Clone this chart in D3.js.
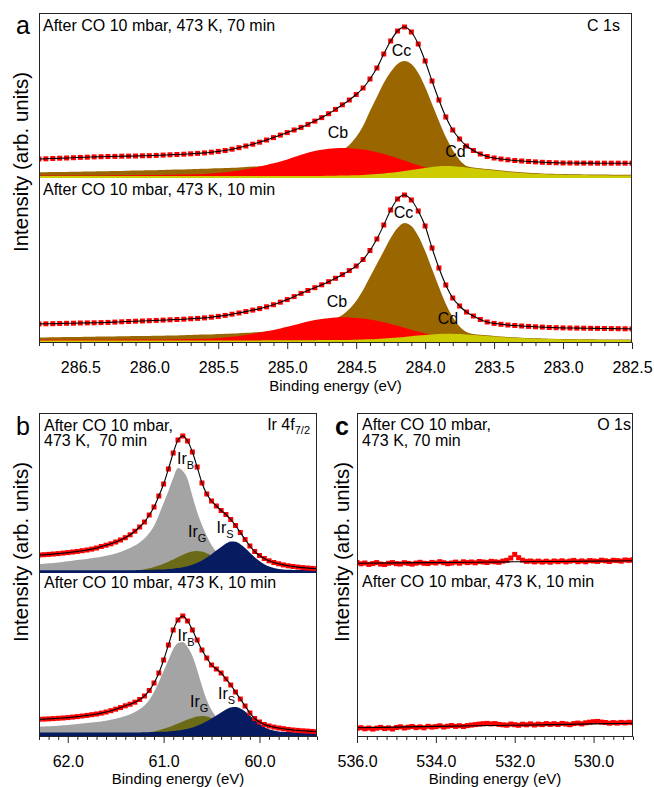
<!DOCTYPE html>
<html>
<head>
<meta charset="utf-8">
<script src="https://cdn.jsdelivr.net/npm/d3@7"></script>
<style>
  body { margin: 0; background: #fff; }
  svg text { font-family: "Liberation Sans", Arial, Helvetica, sans-serif; fill: #000; white-space: pre; }
</style>
</head>
<body>
<svg id="fig" width="654" height="787"></svg>
<script>
// ---------- C 1s : binding-energy grid 286.80 -> 282.50 eV, step 0.05 eV ----------
const c1sStart = 286.8, c1sStep = 0.05;

// 70 min spectrum: measured points and fitted components (arb. units)
const c1s70Data = [19.0,19.2,19.5,19.8,20.0,20.3,20.6,20.8,21.1,21.3,
  21.5,21.6,21.8,21.9,22.0,22.2,22.3,22.6,22.9,23.2,
  23.5,23.8,24.2,24.6,25.1,25.8,26.6,27.5,28.8,30.3,
  32.0,33.8,35.8,38.0,40.4,42.9,45.4,48.0,50.6,53.6,
  56.9,60.4,64.3,68.6,73.2,78.0,83.5,90.0,99.0,110,
  124,137,147,151,146,134,117,97,78,61,
  48,39,32,27.5,24,21.5,20,19,18.2,17.5,
  17,16.5,16.1,15.7,15.4,15.2,15.0,15.0,14.9,14.9,
  14.9,14.8,14.8,14.8,14.8,14.8,14.8];
const c1s70Cc = [5.7,5.8,5.9,6.0,6.1,6.2,6.3,6.4,6.6,6.7,
  6.8,6.9,7.1,7.2,7.4,7.5,7.7,7.8,8.0,8.2,
  8.4,8.6,8.8,9.0,9.2,9.5,9.7,10.0,10.3,10.6,
  11.0,11.4,11.8,12.3,12.8,13.4,14.1,14.9,15.8,16.9,
  18.2,19.8,21.8,24.4,28.0,33,41,52,67,81,
  95,106,114,117,114,105,91,74,57,41,
  28,18,12,10.5,9.7,8.9,8.2,7.5,6.8,6.2,
  5.7,5.3,4.9,4.6,4.3,4.1,3.9,3.8,3.7,3.6,
  3.5,3.4,3.4,3.3,3.3,3.2,3.2];
const c1s70Cb = [2.4,2.4,2.4,2.4,2.5,2.5,2.5,2.5,2.6,2.6,
  2.6,2.7,2.7,2.8,2.8,2.9,3.0,3.0,3.1,3.2,
  3.3,3.4,3.6,3.8,4.1,4.5,5.0,5.7,6.5,7.5,
  8.7,10.0,11.5,13.1,14.8,16.6,18.6,20.9,23.2,25.2,
  26.9,28.2,29.2,29.8,30.0,29.8,29.3,28.4,27.2,25.7,
  23.9,21.9,19.7,17.4,15.0,12.7,10.5,8.5,6.7,5.2,
  3.9,2.9,2.1,1.5,1.0,0.7,0.5,0.3,0.2,0.2,
  0.1,0.1,0.1,0,0,0,0,0,0,0,
  0,0,0,0,0,0,0];
const c1s70Cd = [2.0,2.0,2.0,2.0,2.0,2.0,2.0,2.0,2.0,2.0,
  2.0,2.0,2.0,2.0,2.0,2.0,2.0,2.0,2.0,2.0,
  2.0,2.0,2.0,2.0,2.0,2.0,2.0,2.0,2.0,2.0,
  2.0,2.0,2.0,2.0,2.0,2.0,2.0,2.0,2.0,2.0,
  2.1,2.1,2.2,2.3,2.4,2.6,2.8,3.1,3.5,4.0,
  4.6,5.3,6.1,7.0,8.0,9.1,10.1,11.1,11.8,12.0,
  11.8,11.3,10.6,9.8,9.0,8.2,7.5,6.8,6.1,5.5,
  5.0,4.6,4.2,3.9,3.6,3.4,3.2,3.1,3.0,2.9,
  2.8,2.7,2.7,2.6,2.6,2.5,2.5];

// 10 min spectrum
const c1s10Data = [18.0,18.2,18.3,18.5,18.7,18.8,19.0,19.1,19.2,19.4,
  19.6,19.9,20.2,20.5,20.8,21.0,21.3,21.6,21.9,22.2,
  22.5,22.8,23.2,23.6,24.1,24.8,25.6,26.6,27.8,29.0,
  30.4,31.9,33.4,35.2,37.3,39.8,42.4,45.4,48.6,51.5,
  54.3,57.2,60.3,63.7,67.4,71.4,76.0,82.5,91.5,103,
  117,132,143,147,142,131,116,94,74,57,
  44,36,30,26,22.5,20,18.6,17.7,17.0,16.5,
  16.0,15.6,15.2,14.9,14.5,14.3,14.1,14.0,13.9,13.8,
  13.7,13.6,13.5,13.4,13.3,13.2,13.1];
const c1s10Cc = [4.5,4.6,4.7,4.8,4.9,5.0,5.1,5.2,5.3,5.4,
  5.5,5.6,5.7,5.8,5.9,6.0,6.1,6.2,6.3,6.5,
  6.6,6.8,7.0,7.2,7.4,7.6,7.9,8.2,8.5,8.8,
  9.2,9.6,10.1,10.6,11.2,11.8,12.5,13.3,14.3,15.4,
  16.8,18.5,20.6,23.3,27,33,41,52,65,78,
  91,104,114,119,116,106,91,73,55,38,
  25,15.5,10.0,8.0,7.3,6.7,6.1,5.6,5.1,4.7,
  4.3,4.0,3.7,3.5,3.3,3.1,3.0,2.9,2.8,2.7,
  2.7,2.6,2.6,2.5,2.5,2.5,2.5];
const c1s10Cb = [2.3,2.3,2.3,2.3,2.3,2.3,2.3,2.3,2.3,2.3,
  2.3,2.3,2.4,2.4,2.4,2.4,2.5,2.5,2.5,2.6,
  2.7,2.8,2.9,3.1,3.3,3.6,4.0,4.6,5.3,6.1,
  7.1,8.2,9.4,10.7,12.1,13.6,15.2,17.0,18.8,20.5,
  21.9,23.0,23.8,24.4,24.7,24.6,24.1,23.4,22.4,21.2,
  19.7,18.0,16.2,14.3,12.3,10.4,8.6,7.0,5.5,4.3,
  3.2,2.4,1.7,1.2,0.8,0.6,0.4,0.3,0.2,0.1,
  0.1,0,0,0,0,0,0,0,0,0,
  0,0,0,0,0,0,0];
const c1s10Cd = [1.6,1.6,1.6,1.6,1.6,1.6,1.6,1.6,1.6,1.6,
  1.6,1.6,1.6,1.6,1.6,1.6,1.6,1.6,1.6,1.6,
  1.6,1.6,1.6,1.6,1.6,1.6,1.6,1.6,1.6,1.6,
  1.6,1.6,1.6,1.7,1.7,1.7,1.7,1.7,1.8,1.8,
  1.8,1.9,1.9,2.0,2.0,2.1,2.3,2.5,2.7,3.0,
  3.4,3.9,4.4,5.0,5.7,6.4,7.0,7.6,8.1,8.3,
  8.2,7.9,7.5,7.0,6.5,6.0,5.5,5.0,4.6,4.2,
  3.9,3.6,3.3,3.1,2.9,2.7,2.6,2.5,2.4,2.3,
  2.2,2.2,2.1,2.1,2.0,2.0,2.0];

// ---------- Ir 4f7/2 : grid 62.30 -> 59.40 eV, step 0.05 eV ----------
const irStart = 62.3, irStep = 0.05;
const ir70Data = [18.0,18.3,18.6,19.0,19.4,19.9,20.4,21.0,21.6,22.3,
  23.0,23.9,25.0,26.5,27.8,29.2,31.0,33.0,35.3,38.2,
  41.8,46.0,51,58,66,77,89,104,120,133,
  137,132,121,106,90,79,72,67,62.5,58.5,
  53.5,47.5,40.5,33.5,27,21.5,17.5,14.5,12.2,10.5,
  9.2,8.1,7.2,6.5,5.9,5.4,5.0,4.6,4.3];
const ir70B = [9.0,9.3,9.7,10.1,10.6,11.1,11.7,12.3,12.9,13.5,
  14.1,14.8,15.5,16.3,17.2,18.3,19.6,21.1,22.9,25.0,
  27.5,30.6,34.5,40,47,58,70,82,95,105,
  102,94,77,61,48,37,28,21,16,12.5,
  10,8.2,6.8,5.8,5.0,4.4,3.9,3.5,3.2,2.9,
  2.7,2.5,2.4,2.3,2.2,2.1,2.0,2.0,1.9];
const ir70G = [0.5,0.5,0.5,0.5,0.5,0.5,0.5,0.5,0.5,0.5,
  0.5,0.5,0.5,0.5,0.5,0.6,0.8,1.0,1.3,1.7,
  2.2,2.9,3.7,4.7,5.9,7.4,9.2,11.3,13.5,15.9,
  18.2,20.2,21.6,22.0,21.4,19.8,17.4,14.5,11.5,8.7,
  6.3,4.4,3.0,2.0,1.3,0.8,0.5,0.3,0.2,0.1,
  0.1,0,0,0,0,0,0,0,0];
const ir70S = [2.8,2.8,2.8,2.8,2.8,2.8,2.8,2.8,2.8,2.8,
  2.8,2.8,2.8,2.8,2.8,2.8,2.8,2.8,2.8,2.8,
  2.8,2.9,3.0,3.1,3.2,3.4,3.6,3.9,4.3,4.9,
  5.7,6.8,8.3,10.2,12.6,15.5,18.8,22.4,26.0,29.5,
  31.6,31.2,28.8,24.9,20.3,15.8,11.9,8.8,6.5,5.0,
  4.1,3.6,3.3,3.1,3.0,2.9,2.9,2.8,2.8];

const ir10Data = [16.7,16.9,17.1,17.4,17.7,18.0,18.4,18.9,19.4,20.0,
  20.6,21.3,22.0,22.9,24.0,25.3,26.8,28.4,30.2,31.8,
  33.8,36.5,40,45.5,53,63,76,91,106,116,
  120,115,106,96,86,78,71,67,63,57,
  51,44,37,30,23,17.5,14,11.5,10,8.9,
  8.0,7.3,6.6,6.0,5.6,5.2,4.9,4.6,4.3];
const ir10B = [9.3,9.5,9.7,10.0,10.3,10.7,11.1,11.5,12.0,12.5,
  13.0,13.5,14.0,14.6,15.3,16.2,17.3,18.5,20.0,21.8,
  24.0,26.8,30.5,36,44,54,65,76,87,93,
  94,89,80,66,50,36,26,19,14.5,11.3,
  9.0,7.4,6.2,5.3,4.6,4.1,3.6,3.3,3.0,2.8,
  2.6,2.4,2.3,2.2,2.1,2.0,2.0,1.9,1.9];
const ir10G = [0.5,0.5,0.5,0.5,0.5,0.5,0.5,0.5,0.5,0.5,
  0.5,0.5,0.5,0.5,0.5,0.5,0.5,0.7,0.9,1.2,
  1.6,2.1,2.8,3.6,4.6,5.8,7.2,8.8,10.6,12.5,
  14.5,16.4,18.1,19.4,20.0,19.6,18.0,15.5,12.5,9.5,
  6.8,4.6,3.0,1.9,1.2,0.7,0.4,0.3,0.2,0.1,
  0.1,0,0,0,0,0,0,0,0];
const ir10S = [3.5,3.5,3.5,3.5,3.5,3.5,3.5,3.5,3.5,3.5,
  3.5,3.5,3.5,3.5,3.5,3.5,3.5,3.5,3.5,3.5,
  3.5,3.6,3.7,3.8,3.9,4.1,4.3,4.6,5.0,5.5,
  6.2,7.2,8.5,10.2,12.3,14.8,17.6,20.6,23.6,26.5,
  28.6,29.0,27.6,24.6,20.6,16.3,12.3,9.0,6.8,5.4,
  4.6,4.2,3.9,3.7,3.6,3.5,3.5,3.5,3.5];

// ---------- O 1s : grid 536.0 -> 529.0 eV, step 0.1 eV; background fit at whole eV ----------
const o1sStart = 536.0, o1sStep = 0.1;
const o70Data = [10.5,9.2,10.0,8.6,9.4,10.4,8.9,8.5,9.7,10.4,
  9.3,9.0,10.3,9.6,8.9,9.9,10.7,9.7,9.4,10.6,
  10.0,11.3,10.3,9.3,10.0,10.9,9.8,11.2,10.4,11.0,
  10.2,11.5,11.0,10.5,11.7,11.2,10.7,11.9,12.7,15.0,
  18.6,15.3,12.8,11.6,12.0,11.1,11.9,10.9,11.8,10.8,
  12.0,11.3,12.2,11.1,11.9,12.6,11.3,12.1,11.2,12.4,
  12.0,11.6,12.8,12.2,11.5,12.7,12.4,11.9,13.0,12.6,
  13.2];
const o10Data = [7.6,8.3,7.2,8.0,6.9,7.8,8.6,7.4,8.1,7.0,
  8.5,9.2,8.0,8.8,9.5,8.4,9.1,8.2,9.7,8.9,
  9.4,10.2,9.0,9.8,10.5,9.6,10.3,9.5,10.4,10.9,
  11.4,11.9,12.3,12.6,12.1,12.4,11.6,11.2,10.8,11.9,
  11.3,10.7,11.8,11.2,12.1,11.0,11.9,11.4,12.4,11.6,
  12.3,11.5,12.6,12.0,11.3,12.4,12.9,12.1,13.2,13.8,
  14.3,14.6,13.9,13.5,12.8,13.4,12.9,13.6,13.1,13.7,
  13.3];
const oFitEnergy = [536, 535, 534, 533, 532, 531, 530, 529];
const o70Fit = [9.7, 10.1, 10.4, 10.8, 11.2, 11.5, 11.9, 12.3];
const o10Fit = [8.3, 8.9, 9.6, 10.2, 10.8, 11.4, 12.1, 12.7];

// ---------- axis ticks ----------
const c1sMajor = [286.5, 286.0, 285.5, 285.0, 284.5, 284.0, 283.5, 283.0, 282.5];
const irMajor = [62.0, 61.0, 60.0];
const o1sMajor = [536.0, 534.0, 532.0, 530.0];

// ---------- colours ----------
const colRed = "#ff0000", colBrown = "#996600", colYellow = "#cccc00";
const colGray = "#a4a4a4", colOlive = "#6b6b17", colNavy = "#061b60";

// energy axis for a grid
const grid = (start, step, n) => d3.range(n).map(i => +(start - step * i).toFixed(3));

const svg = d3.select("#fig");
const defs = svg.append("defs");

function drawPanel(cfg) {
  const x = d3.scaleLinear().domain(cfg.domain).range([cfg.left, cfg.right]);
  const y = d3.scaleLinear().domain([0, cfg.yMax]).range([cfg.bottom, cfg.top]);

  defs.append("clipPath").attr("id", "clip-" + cfg.id)
    .append("rect").attr("x", cfg.left).attr("y", cfg.top)
    .attr("width", cfg.right - cfg.left).attr("height", cfg.bottom - cfg.top);
  const plot = svg.append("g").attr("clip-path", `url(#clip-${cfg.id})`);

  cfg.spectra.forEach(sp => {
    const E = sp.energy;
    // fitted components, filled down to the spectrum baseline
    (sp.components || []).forEach(c => {
      const area = d3.area()
        .x((d, i) => x(E[i]))
        .y0(y(sp.offset))
        .y1(d => y(sp.offset + d))
        .curve(d3.curveMonotoneX);
      plot.append("path").datum(c.values).attr("d", area).attr("fill", c.color);
    });
    // measured points
    const s = cfg.marker;
    plot.append("g").selectAll("rect").data(sp.data).join("rect")
      .attr("x", (d, i) => x(E[i]) - s / 2)
      .attr("y", d => y(sp.offset + d) - s / 2)
      .attr("width", s).attr("height", s)
      .attr("fill", colRed);
    // fit envelope
    const fitE = sp.fitEnergy || E;
    const fitV = sp.fit || sp.data;
    const line = d3.line()
      .x((d, i) => x(fitE[i]))
      .y(d => y(sp.offset + d))
      .curve(sp.fit ? d3.curveLinear : d3.curveMonotoneX);
    plot.append("path").datum(fitV).attr("d", line)
      .attr("fill", "none").attr("stroke", "#000").attr("stroke-width", 1.1);
  });

  // frame
  svg.append("rect")
    .attr("x", cfg.left + 0.5).attr("y", cfg.top + 0.5)
    .attr("width", cfg.right - cfg.left - 1).attr("height", cfg.bottom - cfg.top)
    .attr("fill", "none").attr("stroke", "#262626").attr("stroke-width", 1);

  // bottom axis: minor then major ticks
  const axG = svg.append("g").attr("transform", `translate(0,${cfg.bottom + 0.5})`);
  axG.call(d3.axisBottom(x).tickValues(cfg.minor).tickSize(3.5).tickFormat(""));
  const axM = svg.append("g").attr("transform", `translate(0,${cfg.bottom + 0.5})`);
  axM.call(d3.axisBottom(x).tickValues(cfg.major).tickSize(6.5).tickPadding(12.5)
    .tickFormat(d3.format(".1f")));
  [axG, axM].forEach(a => {
    a.select(".domain").remove();
    a.selectAll("line").attr("stroke", "#262626");
    a.selectAll("text").attr("font-size", 16)
      .attr("font-family", '"Liberation Sans", Arial, sans-serif').attr("fill", "#000");
  });

  // axis titles
  svg.append("text").attr("x", (cfg.left + cfg.right) / 2).attr("y", cfg.xTitleY)
    .attr("text-anchor", "middle").attr("font-size", 15).text("Binding energy (eV)");
  svg.append("text")
    .attr("transform", `translate(${cfg.yTitleX},${cfg.yTitleY}) rotate(-90)`)
    .attr("text-anchor", "middle").attr("font-size", 20.5).text("Intensity (arb. units)");
  return { x, y };
}

function minorTicks(lo, hi, step, major) {
  const n = Math.round((hi - lo) / step);
  return d3.range(n + 1).map(i => +(lo + i * step).toFixed(3))
    .filter(v => !major.some(m => Math.abs(m - v) < 1e-6));
}

// ---------- panel a : C 1s ----------
const eC = grid(c1sStart, c1sStep, c1s70Data.length);
drawPanel({
  id: "a", left: 39, right: 632, top: 13, bottom: 342,
  domain: [286.8, 282.5], yMax: 329, marker: 5,
  major: c1sMajor, minor: minorTicks(282.5, 286.8, 0.1, c1sMajor),
  xTitleY: 391, yTitleX: 28, yTitleY: 162,
  spectra: [
    { energy: eC, offset: 164, data: c1s70Data,
      components: [{ values: c1s70Cc, color: colBrown }, { values: c1s70Cb, color: colRed }, { values: c1s70Cd, color: colYellow }] },
    { energy: eC, offset: 0, data: c1s10Data,
      components: [{ values: c1s10Cc, color: colBrown }, { values: c1s10Cb, color: colRed }, { values: c1s10Cd, color: colYellow }] }
  ]
});

// ---------- panel b : Ir 4f7/2 ----------
const eIr = grid(irStart, irStep, ir70Data.length);
drawPanel({
  id: "b", left: 39, right: 317, top: 413, bottom: 736,
  domain: [62.3, 59.4], yMax: 323, marker: 5,
  major: irMajor, minor: minorTicks(59.4, 62.3, 0.1, irMajor),
  xTitleY: 783.5, yTitleX: 28, yTitleY: 552,
  spectra: [
    { energy: eIr, offset: 163, data: ir70Data,
      components: [{ values: ir70B, color: colGray }, { values: ir70G, color: colOlive }, { values: ir70S, color: colNavy }] },
    { energy: eIr, offset: 0, data: ir10Data,
      components: [{ values: ir10B, color: colGray }, { values: ir10G, color: colOlive }, { values: ir10S, color: colNavy }] }
  ]
});

// ---------- panel c : O 1s ----------
const eO = grid(o1sStart, o1sStep, o70Data.length);
drawPanel({
  id: "c", left: 357, right: 633, top: 413, bottom: 736,
  domain: [536, 529], yMax: 323, marker: 5,
  major: o1sMajor, minor: minorTicks(529, 536, 0.25, o1sMajor),
  xTitleY: 783.5, yTitleX: 349, yTitleY: 552,
  spectra: [
    { energy: eO, offset: 163, data: o70Data, fitEnergy: oFitEnergy, fit: o70Fit },
    { energy: eO, offset: 0, data: o10Data, fitEnergy: oFitEnergy, fit: o10Fit }
  ]
});

// ---------- annotations ----------
function label(x, y, txt, opts = {}) {
  const t = svg.append("text").attr("x", x).attr("y", y)
    .attr("font-size", opts.size || 16)
    .attr("text-anchor", opts.anchor || "start");
  if (opts.weight) t.attr("font-weight", opts.weight);
  if (opts.sub) {
    t.append("tspan").text(txt);
    t.append("tspan").attr("dy", opts.subDy || 5).attr("font-size", opts.subSize || 11).text(opts.sub);
  } else {
    t.text(txt);
  }
  return t;
}

// panel letters
label(16, 34, "a", { size: 25 });
label(16, 435, "b", { size: 25 });
label(335, 435, "c", { size: 25, weight: "bold" });

// panel a
label(43, 30.5, "After CO 10 mbar, 473 K, 70 min");
label(43, 195, "After CO 10 mbar, 473 K, 10 min");
label(620, 30.5, "C 1s", { anchor: "end" });
label(401.5, 56, "Cc", { anchor: "middle" });
label(338, 137.5, "Cb", { anchor: "middle" });
label(455.5, 157, "Cd", { anchor: "middle" });
label(403.5, 218, "Cc", { anchor: "middle" });
label(337, 306.5, "Cb", { anchor: "middle" });
label(448, 324, "Cd", { anchor: "middle" });

// panel b
label(44, 430.5, "After CO 10 mbar,");
label(44, 446, "473 K,  70 min");
label(44, 588, "After CO 10 mbar, 473 K, 10 min");
label(310, 429.5, "Ir 4f", { anchor: "end", sub: "7/2", subDy: 4, subSize: 11 });
label(177, 464, "Ir", { sub: "B" });
label(188, 537, "Ir", { sub: "G" });
label(216.5, 533, "Ir", { sub: "S" });
label(177.5, 640.5, "Ir", { sub: "B" });
label(190, 706.5, "Ir", { sub: "G" });
label(218, 698.5, "Ir", { sub: "S" });

// panel c
label(362, 429.5, "After CO 10 mbar,");
label(362, 445.5, "473 K, 70 min");
label(362, 587, "After CO 10 mbar, 473 K, 10 min");
label(631, 429.5, "O 1s", { anchor: "end" });
</script>
</body>
</html>
